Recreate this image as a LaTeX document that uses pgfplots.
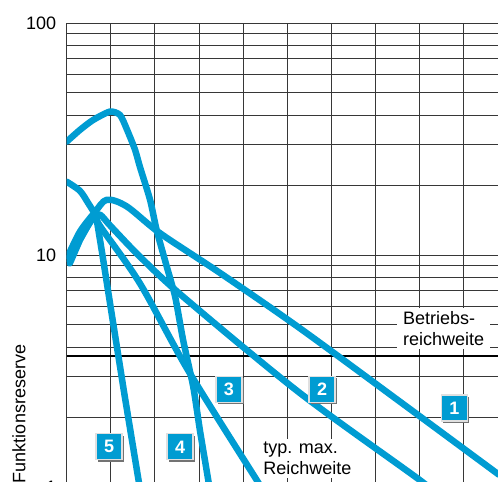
\documentclass[border=0pt]{standalone}
\usepackage{pgfplots}
\pgfplotsset{compat=1.18}
\usepackage{fontspec}
\setmainfont{Liberation Sans}
\usetikzlibrary{shadows}
\definecolor{sickblue}{RGB}{0,156,210}
\definecolor{gridc}{RGB}{55,55,55}

\tikzset{
  numbox/.style={fill=sickblue, draw=black!12, line width=1.2pt, text=white,
    minimum size=26pt, inner sep=0pt, font=\fontsize{18}{20}\selectfont\bfseries,
    drop shadow={shadow xshift=2pt, shadow yshift=-2pt, fill=black!55, opacity=1}},
  curve/.style={sickblue, line width=6.5pt, line cap=round, line join=round}
}

\begin{document}
\begin{tikzpicture}
\begin{axis}[
    scale only axis,
    width=431.3pt, height=464pt,
    xmin=0, xmax=9.78,
    ymode=log, ymin=1, ymax=100,
    enlargelimits=false,
    xtick={0,1,2,3,4,5,6,7,8,9},
    xticklabels={},
    ytick={1,10,100},
    log ticks with fixed point,
    /pgf/number format/assume math mode=true,
    yticklabel style={font=\fontsize{18}{20}\selectfont, xshift=-7pt},
    tick style={draw=none},
    axis line style={draw=none},
    xmajorgrids, ymajorgrids, yminorgrids,
    grid style={gridc, line width=0.9pt},
    major grid style={gridc, line width=0.9pt},
    minor grid style={gridc, line width=0.9pt},
  ]
  % Betriebsreichweite
  \addplot [black, line width=1.8pt] coordinates {(0,3.67) (9.78,3.67)};

  \node [fill=white, anchor=west, align=left, inner xsep=6pt, inner ysep=3pt,
    font=\fontsize{18}{21}\selectfont] at (axis cs:7.49,4.82) {Betriebs-\\reichweite};
  \node [fill=white, anchor=west, align=left, inner xsep=5pt, inner ysep=3pt,
    font=\fontsize{18}{21}\selectfont] at (axis cs:4.34,1.33) {typ. max.\\Reichweite};

  % 1
  \addplot [curve, smooth, tension=0.5] coordinates {
    (0.03,9.9) (0.30,12.6) (0.64,15.3) (0.91,17.3) (1.36,16.2) (2.12,12.4)
    (3.48,8.36) (5.29,4.83) (7.56,2.33) (9.80,1.13)};
  % 2
  \addplot [curve, smooth, tension=0.5] coordinates {
    (0.04,9.6) (0.35,12.2) (0.62,14.6) (0.76,14.9) (1.00,13.3) (1.66,9.84)
    (2.64,6.61) (5.29,2.54) (8.01,1.07) (8.30,0.95)};
  % 3
  \addplot [curve, smooth, tension=0.5] coordinates {
    (0.0,20.7) (0.30,18.9) (0.49,16.7) (0.64,15.0) (0.76,13.3) (1.66,7.55)
    (2.75,3.19) (4.31,1.07) (4.45,0.97)};
  % 4
  \addplot [curve, smooth, tension=0.4] coordinates {
    (0.0,30.8) (0.30,34.6) (0.60,38.2) (0.98,41.5) (1.21,40.1) (1.37,34.6)
    (1.55,28.4) (1.66,24.0) (1.89,17.3) (2.04,12.8) (2.27,8.9) (2.46,6.6)
    (2.64,4.3) (2.87,2.70) (3.02,1.76) (3.21,1.07) (3.25,0.95)};
  % 5
  \addplot [curve] coordinates {
    (0.07,9.2) (0.30,11.6) (0.53,13.9) (0.62,15.0) (0.66,15.0) (0.80,10.3)
    (1.00,5.9) (1.30,2.57) (1.67,0.96)};

  \node [numbox] at (axis cs:0.96,1.49) {5};
  \node [numbox] at (axis cs:2.57,1.49) {4};
  \node [numbox] at (axis cs:3.68,2.64) {3};
  \node [numbox] at (axis cs:5.79,2.64) {2};
  \node [numbox] at (axis cs:8.79,2.19) {1};
\end{axis}
\node [rotate=90, font=\fontsize{18}{20}\selectfont]
  at ([shift={(-47.7pt,73pt)}]current axis.south west) {Funktionsreserve};
\pgfresetboundingbox
\path ([shift={(-66.7pt,5pt)}]current axis.south west) rectangle
  ([shift={(0pt,23pt)}]current axis.north east);
\end{tikzpicture}
\end{document}
